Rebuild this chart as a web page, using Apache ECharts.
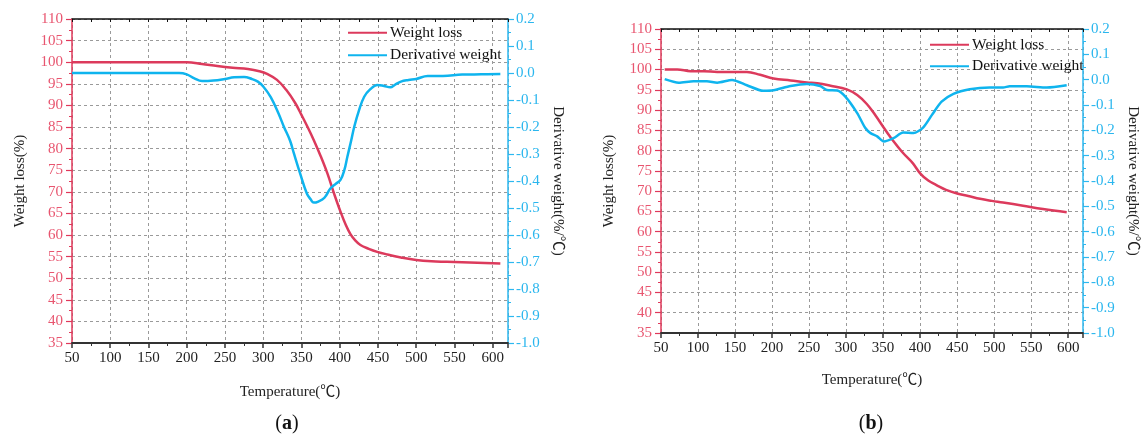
<!DOCTYPE html>
<html><head><meta charset="utf-8">
<script src="https://cdn.jsdelivr.net/npm/echarts@6/dist/echarts.min.js"></script>
<style>html,body{margin:0;padding:0;background:#fff}#c{width:1142px;height:439px}</style>
</head><body><div id="c"></div>
<script>
// ---- Data (a) ----
const tempWA = [50,100,150,200,220,240,260,280,295,305,318,330,342,350,358,366,375,384,392,401,408,414,420,427,438,449,462,480,500,520,540,560,580,610];
const weightA = [100,100,100,100,99.6,99.1,98.7,98.4,97.9,97.3,95.9,93.6,90.5,87.8,85,82,78.3,74.2,69.9,65.4,62.3,60.2,58.8,57.7,56.8,56.1,55.5,54.8,54.2,53.9,53.8,53.7,53.6,53.4];
const tempDA = [50,100,150,190,200,210,220,235,250,262,275,285,293,300,310,320,327,335,340,348,357,362,366,372,380,388,395,401,406,410,415,419,425,432,440,449,458,466,473,480,490,500,515,535,560,585,610];
const derivA = [0,0,0,0,-0.005,-0.02,-0.03,-0.028,-0.022,-0.016,-0.015,-0.022,-0.032,-0.05,-0.09,-0.15,-0.199,-0.25,-0.297,-0.37,-0.446,-0.468,-0.48,-0.476,-0.462,-0.427,-0.41,-0.396,-0.36,-0.31,-0.25,-0.199,-0.14,-0.088,-0.06,-0.044,-0.048,-0.053,-0.042,-0.032,-0.026,-0.022,-0.011,-0.011,-0.006,-0.005,-0.004];
// ---- Data (b) ----
const tempWB = [55,72,90,108,126,145,166,184,202,225,247,261,279,301,315,328,340,350,360,377,390,400,411,422,435,450,465,481,497,512,539,566,598];
const weightB = [100,100,99.6,99.6,99.4,99.4,99.4,98.7,97.8,97.3,96.8,96.6,96,95.1,93.7,91.5,88.6,85.9,83.3,79.4,76.9,74.4,72.6,71.5,70.3,69.4,68.8,68.1,67.6,67.2,66.4,65.6,64.8];
const tempDB = [55,74,94,112,126,146,166,188,202,225,247,265,274,288,299,315,326,333,342,351,364,377,391,404,416,429,445,467,494,512,521,544,571,598];
const derivB = [0.002,-0.012,-0.006,-0.006,-0.012,-0.001,-0.022,-0.044,-0.042,-0.025,-0.017,-0.025,-0.041,-0.043,-0.067,-0.132,-0.191,-0.211,-0.224,-0.244,-0.231,-0.209,-0.211,-0.189,-0.139,-0.087,-0.056,-0.038,-0.031,-0.031,-0.026,-0.026,-0.031,-0.022];
// ---- Axis settings ----
const xRange = [50, 620], xStep = 50;
const yRange = [35, 110], yStep = 5;
const dRange = [-1.0, 0.2], dStep = 0.1;
const seriesNames = ['Weight loss', 'Derivative weight'];
const labelsTxt = ['a', 'b'];

const zip = (a, b) => a.map((v, i) => [v, b[i]]);
const FONT = '"Liberation Serif", "Noto Sans CJK SC", serif';
const RED = '#dc3a5c', BLUE = '#0fb4ee', RED_L = '#e8556f', BLUE_L = '#2ab6ee', RED_AX = '#e0385a', BLUE_AX = '#2cb8f0';
const gridDefs = [
  {left: 72, top: 19, width: 436, height: 324},
  {left: 661, top: 29, width: 422, height: 304}
];
const xNameGap = [42, 40];
const grids = gridDefs.map(g => Object.assign({containLabel: false}, g));
const xAxes = [], yAxes = [], series = [];
const split = {show: true, lineStyle: {color: '#9a9a9a', type: [3, 3], width: 1}};
gridDefs.forEach((g, i) => {
  xAxes.push({
    type: 'value', gridIndex: i, min: xRange[0], max: xRange[1], interval: xStep,
    name: 'Temperature(\u2103)', nameLocation: 'middle', nameGap: xNameGap[i],
    nameTextStyle: {fontFamily: FONT, fontSize: 15, color: '#222'},
    axisLine: {show: true, onZero: false, lineStyle: {color: '#333', width: 2}},
    axisTick: {show: true, length: 5, lineStyle: {color: '#333', width: 1.5}},
    minorTick: {show: true, splitNumber: 2, length: 3, lineStyle: {color: '#333'}},
    axisLabel: {fontFamily: FONT, fontSize: 15, color: '#222', margin: 8, showMaxLabel: false},
    splitLine: split
  });
  xAxes.push({
    type: 'value', gridIndex: i, position: 'top', min: xRange[0], max: xRange[1], interval: xStep,
    axisLine: {show: true, onZero: false, lineStyle: {color: '#111', width: 1.5}},
    axisTick: {show: true, inside: true, length: 3, lineStyle: {color: '#111'}},
    minorTick: {show: true, splitNumber: 2, length: 3, lineStyle: {color: '#111'}},
    axisLabel: {show: false}, splitLine: {show: false}
  });
  yAxes.push({
    type: 'value', gridIndex: i, position: 'left', min: yRange[0], max: yRange[1], interval: yStep,
    name: 'Weight loss(%)', nameLocation: 'middle', nameGap: 44,
    nameTextStyle: {fontFamily: FONT, fontSize: 15, color: '#222'},
    axisLine: {show: true, onZero: false, lineStyle: {color: RED_AX, width: 1.5}},
    axisTick: {show: true, length: 6, lineStyle: {color: RED_AX, width: 1.2}},
    minorTick: {show: true, splitNumber: 2, length: 3, lineStyle: {color: RED_AX}},
    axisLabel: {fontFamily: FONT, fontSize: 15, color: RED_L, margin: 9},
    splitLine: split
  });
  yAxes.push({
    type: 'value', gridIndex: i, position: 'right', min: dRange[0], max: dRange[1], interval: dStep,
    name: 'Derivative weight(%/\u2103)', nameLocation: 'middle', nameGap: 42, nameRotate: -90,
    nameTextStyle: {fontFamily: FONT, fontSize: 15, color: '#222'},
    axisLine: {show: true, onZero: false, lineStyle: {color: BLUE_AX, width: 1.5}},
    axisTick: {show: true, length: 6, lineStyle: {color: BLUE_AX, width: 1.2}},
    minorTick: {show: true, splitNumber: 2, length: 3, lineStyle: {color: BLUE_AX}},
    axisLabel: {fontFamily: FONT, fontSize: 15, color: BLUE_L, margin: 8,
      formatter: v => (Math.abs(v) < 1e-9 ? 0 : v).toFixed(1)},
    splitLine: {show: false}
  });
});
const wData = [zip(tempWA, weightA), zip(tempWB, weightB)];
const dData = [zip(tempDA, derivA), zip(tempDB, derivB)];
[0, 1].forEach(i => {
  series.push({name: seriesNames[0], type: 'line', xAxisIndex: i * 2, yAxisIndex: i * 2, data: wData[i],
    symbol: 'none', smooth: 0.4, lineStyle: {color: RED, width: 2.5}, itemStyle: {color: RED}});
  series.push({name: seriesNames[1], type: 'line', xAxisIndex: i * 2, yAxisIndex: i * 2 + 1, data: dData[i],
    symbol: 'none', smooth: i === 0 ? 0.4 : 0.25, lineStyle: {color: BLUE, width: 2.5}, itemStyle: {color: BLUE}});
});
const legendPos = [{left: 348, top: 25, itemGap: 7}, {left: 930, top: 37, itemGap: 6}];
const legends = legendPos.map(p => ({
  left: p.left, top: p.top, padding: 0, orient: 'vertical', itemGap: p.itemGap, itemWidth: 39, itemHeight: 14,
  data: seriesNames, selectedMode: false, icon: 'path://M0,6L40,6L40,8L0,8Z',
  textStyle: {fontFamily: FONT, fontSize: 15.5, color: '#111', padding: [0, 0, 0, -2]}
}));
const labelXY = [[287, 424], [871, 424]];
const graphics = labelXY.map((p, i) => ({
  type: 'text', x: p[0], y: p[1],
  style: {text: '(' + '{b|' + labelsTxt[i] + '})', rich: {b: {fontWeight: 'bold', fontSize: 20, fontFamily: FONT, fill: '#111'}},
    fontFamily: FONT, fontSize: 20, fill: '#111', align: 'center', verticalAlign: 'middle'}
}));
const chart = echarts.init(document.getElementById('c'), null, {renderer: 'canvas'});
chart.setOption({
  animation: false, backgroundColor: '#fff',
  grid: grids, xAxis: xAxes, yAxis: yAxes, series: series, legend: legends, graphic: graphics
});
</script></body></html>
